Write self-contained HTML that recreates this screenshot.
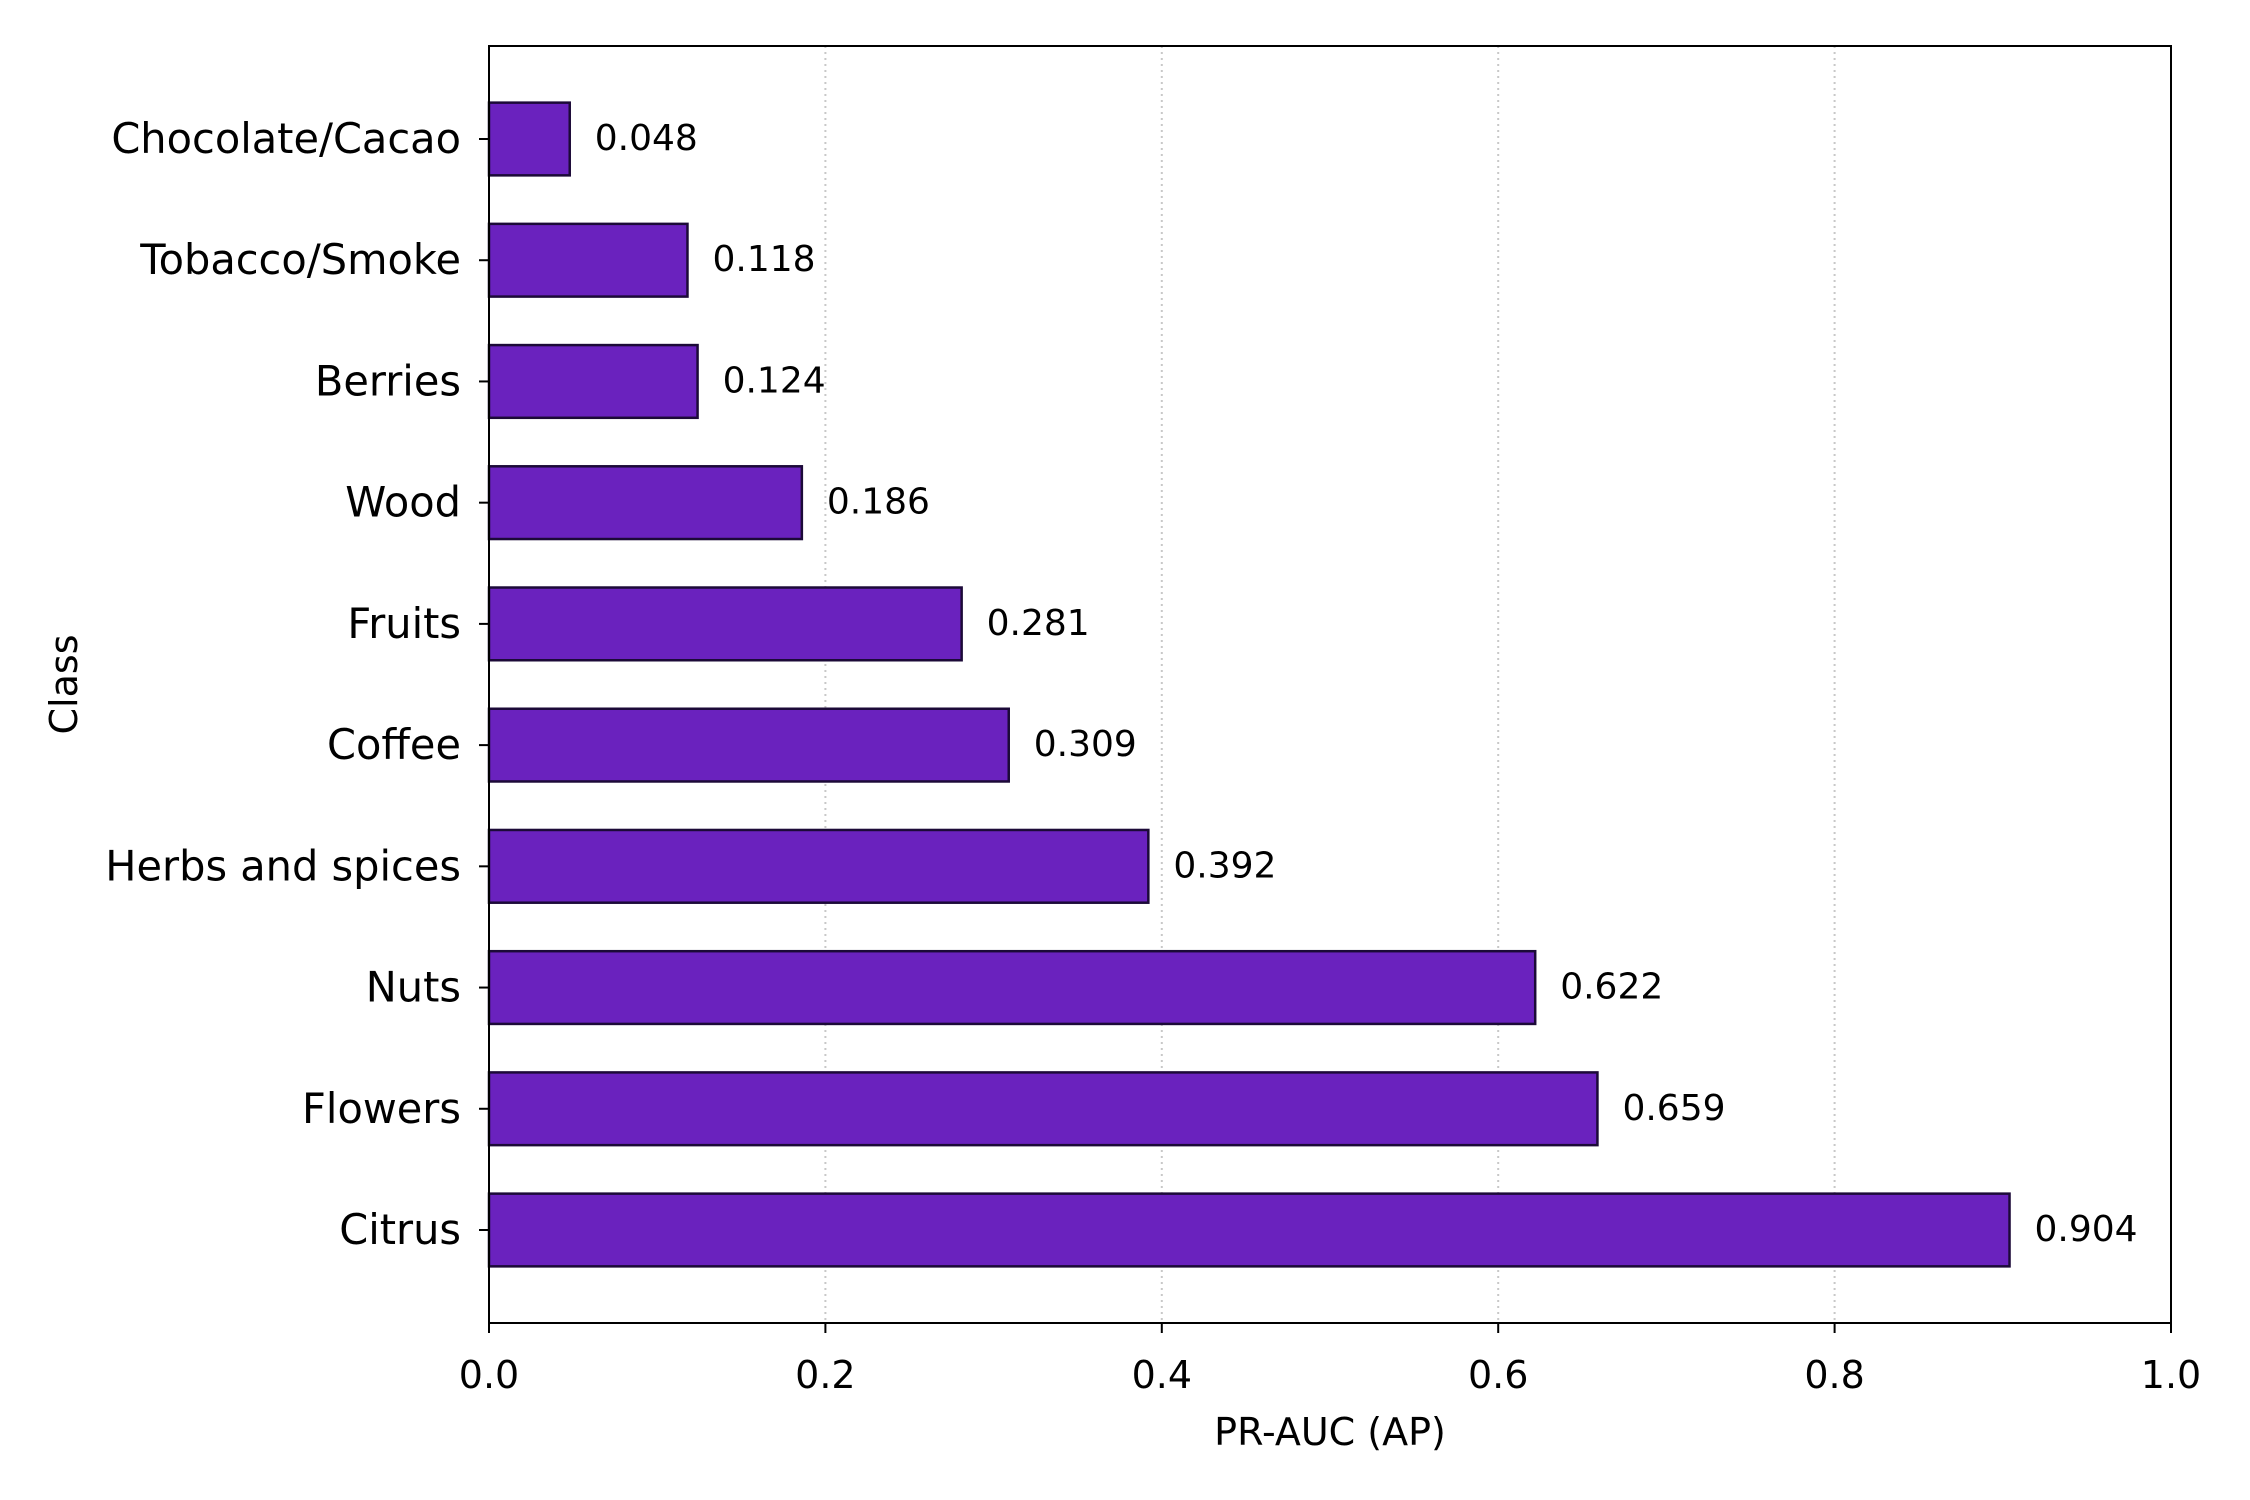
<!DOCTYPE html>
<html><head><meta charset="utf-8"><style>
html,body{margin:0;padding:0;background:#fff;}
svg{display:block;font-family:"DejaVu Sans","Liberation Sans",sans-serif;}
</style></head><body>
<svg id="chart" width="2250" height="1500" viewBox="0 0 2250 1500" xmlns="http://www.w3.org/2000/svg">
<rect width="2250" height="1500" fill="#fff"/>
<g id="grid"></g><g id="bars"></g><g id="labels"></g><g id="axes"></g>
</svg>
<script>
const categories = ["Chocolate/Cacao","Tobacco/Smoke","Berries","Wood","Fruits","Coffee","Herbs and spices","Nuts","Flowers","Citrus"];
const values = [0.048,0.118,0.124,0.186,0.281,0.309,0.392,0.622,0.659,0.904];
const xTicks = [0,0.2,0.4,0.6,0.8,1.0];
const xTickLabels = ["0.0","0.2","0.4","0.6","0.8","1.0"];

const NS="http://www.w3.org/2000/svg";
const L=489,R=2171,T=46,B=1323;
const firstY=139,lastY=1230;
function xs(v){return L+(R-L)*v;}
function ys(i){return firstY+(lastY-firstY)*i/(categories.length-1);}
const step=(lastY-firstY)/(categories.length-1);
const bh=step*0.6;
function mk(tag,attrs,parent,text){const e=document.createElementNS(NS,tag);for(const k in attrs)e.setAttribute(k,attrs[k]);if(text!==undefined)e.textContent=text;parent.appendChild(e);return e;}
const grid=document.getElementById('grid'),bars=document.getElementById('bars'),labels=document.getElementById('labels'),axes=document.getElementById('axes');

xTicks.forEach((t,i)=>{
  if(i>0&&i<xTicks.length-1){
    const g=mk('line',{x1:xs(t),x2:xs(t),y1:T,y2:B,stroke:'#c8c8c8','stroke-width':2,'stroke-dasharray':'2,4'},grid);
    
    
  }
  const tk=mk('line',{x1:xs(t),x2:xs(t),y1:B,y2:B+10,stroke:'#000','stroke-width':2},axes);
  
  
  const tl=mk('text',{x:xs(t),y:1388,'font-size':38,'text-anchor':'middle',fill:'#000'},axes,xTickLabels[i]);
  
  
});

categories.forEach((c,i)=>{
  const y=ys(i),v=values[i];
  const b=mk('rect',{x:L,y:y-bh/2,width:xs(v)-L,height:bh,fill:'#6a22be',stroke:'#1c0a38','stroke-width':2.5},bars);
  
  
  const vl=mk('text',{x:xs(v)+25,y:y+11,'font-size':36,fill:'#000'},labels,v.toFixed(3));
  
  
  const tk=mk('line',{x1:L-10,x2:L,y1:y,y2:y,stroke:'#000','stroke-width':2},axes);
  
  
  const tl=mk('text',{x:L-28,y:y+14,'font-size':41.5,'text-anchor':'end',fill:'#000'},axes,c);
  
  
});

const frame=mk('rect',{x:L,y:T,width:R-L,height:B-T,fill:'none',stroke:'#000','stroke-width':2},axes);


const xt=mk('text',{x:(L+R)/2,y:1445,'font-size':38,'text-anchor':'middle',fill:'#000'},axes,'PR-AUC (AP)');


const yt=mk('text',{x:0,y:0,'font-size':38,'text-anchor':'middle',fill:'#000',transform:'translate(77,'+((T+B)/2)+') rotate(-90)'},axes,'Class');


</script>
</body></html>
